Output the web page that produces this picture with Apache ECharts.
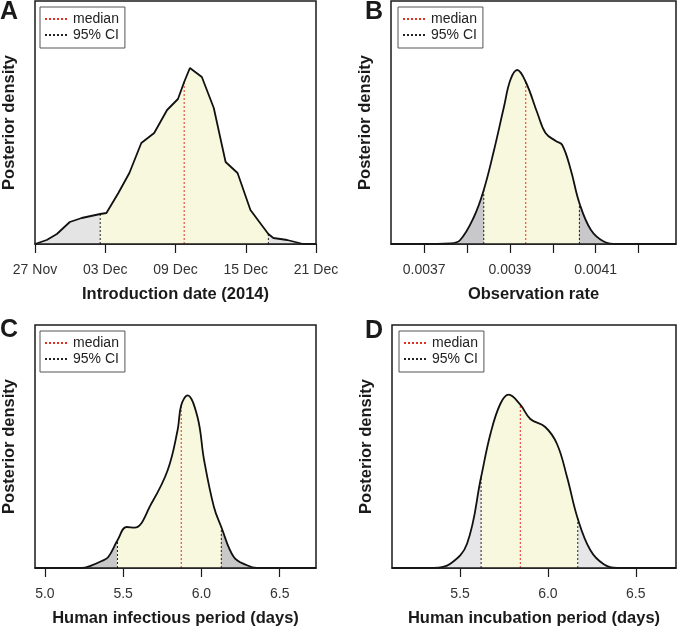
<!DOCTYPE html>
<html><head><meta charset="utf-8">
<script src="https://cdn.jsdelivr.net/npm/echarts@6/dist/echarts.min.js"></script>
<style>html,body{margin:0;padding:0;background:#fff}#c{width:677px;height:628px}</style>
</head><body><div id="c"></div>
<script>
// ---- Panel A: introduction date (days after 27 Nov 2014) ----
const xA = [0, 1.0, 1.87, 2.97, 3.99, 5.57, 6.1, 7.12, 8.06, 9.08, 10.18, 11.28, 12.21, 12.74, 13.23, 14.25, 15.27, 16.28, 17.3, 18.4, 19.93, 20.36, 21.54, 22.9, 24];
const yA = [0, 4, 10, 22, 26, 30, 31, 51, 71, 101, 111, 134, 145, 162, 176, 167, 136, 82, 71, 34, 10, 6, 4, 0, 0];
const ciA = [5.57, 19.93], ciHA = [30, 10], medA = 12.74, medHA = 162;
const ticksA = [0, 6, 12, 18, 24];
const tickLabelsA = ['27 Nov', '03 Dec', '09 Dec', '15 Dec', '21 Dec'];

// ---- Panel B: observation rate ----
const xB = [0.0036227, 0.00373, 0.003761, 0.003784, 0.003816, 0.003839, 0.003863, 0.003886, 0.003901, 0.003917, 0.003937, 0.003964, 0.003983, 0.004007, 0.004022, 0.004042, 0.004062, 0.004089, 0.00412, 0.004151, 0.0042873];
const yB = [0, 0, 0.5, 4, 27, 54, 94, 137, 164, 174, 162, 131, 111, 103, 99, 74, 41, 14, 2.3, 0, 0];
const ciB = [0.003839, 0.004062], ciHB = [54, 41], medB = 0.003937, medHB = 162;
const ticksB = [0.0037, 0.0038, 0.0039, 0.0040, 0.0041, 0.0042];
const labelsB = [0.0037, 0.0039, 0.0041];

// ---- Panel C: human infectious period (days) ----
const xC = [4.937, 5.236, 5.299, 5.363, 5.405, 5.464, 5.521, 5.573, 5.679, 5.785, 5.848, 5.871, 5.911, 5.975, 6.017, 6.080, 6.127, 6.207, 6.291, 6.354, 6.732];
const yC = [0, 0, 2.7, 7, 11, 27.7, 41, 40.3, 64, 98, 138, 162.7, 172.7, 151, 108, 61, 41, 11, 2.7, 0, 0];
const ciC = [5.464, 6.127], ciHC = [27.7, 41], medC = 5.871, medHC = 162.7;
const ticksC = [5.0, 5.5, 6.0, 6.5];

// ---- Panel D: human incubation period (days) ----
const xD = [5.113, 5.350, 5.445, 5.540, 5.620, 5.673, 5.729, 5.777, 5.843, 5.900, 5.985, 6.052, 6.109, 6.170, 6.242, 6.318, 6.394, 6.729];
const yD = [0, 0, 4.3, 24.3, 91, 134, 164, 173.3, 163.3, 149, 141, 124, 91, 49.3, 17.7, 3.7, 0, 0];
const ciD = [5.620, 6.170], ciHD = [91, 49.3], medD = 5.843, medHD = 163.3;
const ticksD = [5.5, 6.0, 6.5];

const FONT = 'Liberation Sans';
const panels = [
  {letter:'A', x:xA, y:yA, ci:ciA, ciH:ciHA, med:medA, medH:medHA, ticks:ticksA, labels:ticksA,
   fmt:v=>tickLabelsA[ticksA.indexOf(v)], name:'Introduction date (2014)', smooth:false, tail:'#e4e4e4',
   min:0, max:24, grid:{left:33, top:1, width:283, height:243}, lt:{left:0, top:0}},
  {letter:'B', x:xB, y:yB, ci:ciB, ciH:ciHB, med:medB, medH:medHB, ticks:ticksB, labels:labelsB,
   fmt:v=>v.toFixed(4), name:'Observation rate', smooth:0.4, tail:'#c8c8cb',
   min:0.0036227, max:0.0042873, grid:{left:391, top:1, width:285, height:243}, lt:{left:365, top:0}},
  {letter:'C', x:xC, y:yC, ci:ciC, ciH:ciHC, med:medC, medH:medHC, ticks:ticksC, labels:ticksC,
   fmt:v=>v.toFixed(1), name:'Human infectious period (days)', smooth:0.4, tail:'#c8c8c8',
   min:4.937, max:6.732, grid:{left:33, top:325, width:283, height:243}, lt:{left:0, top:318}},
  {letter:'D', x:xD, y:yD, ci:ciD, ciH:ciHD, med:medD, medH:medHD, ticks:ticksD, labels:ticksD,
   fmt:v=>v.toFixed(1), name:'Human incubation period (days)', smooth:0.4, tail:'#e6e6e9',
   min:5.113, max:6.729, grid:{left:392, top:325, width:284, height:243}, lt:{left:365, top:319}}
];

const option = {animation:false, textStyle:{fontFamily:FONT}, grid:[], xAxis:[], yAxis:[], series:[], visualMap:[], legend:[], title:[]};
panels.forEach((p, i) => {
  option.grid.push(Object.assign({show:true, borderColor:'#1a1a1a', borderWidth:1.5, backgroundColor:'transparent'}, p.grid));
  option.title.push({text:p.letter, left:p.lt.left, top:p.lt.top, padding:0,
    textStyle:{fontSize:25, fontWeight:'bold', color:'#1a1a1a', fontFamily:FONT}});
  option.xAxis.push({gridIndex:i, type:'value', min:p.min, max:p.max, z:5,
    axisLine:{show:true, onZero:false, lineStyle:{color:'#1a1a1a', width:1.5}},
    axisTick:{show:true, customValues:p.ticks, length:9, lineStyle:{color:'#1a1a1a', width:1.2}},
    axisLabel:{customValues:p.labels, formatter:p.fmt, margin:19, color:'#333', fontSize:14, fontFamily:FONT, showMinLabel:true, showMaxLabel:true, hideOverlap:false},
    splitLine:{show:false},
    name:p.name, nameLocation:'middle', nameGap:42,
    nameTextStyle:{fontSize:16.5, fontWeight:'bold', color:'#1a1a1a', fontFamily:FONT}});
  option.yAxis.push({gridIndex:i, type:'value', min:0, max:243,
    axisLine:{show:false}, axisTick:{show:false}, axisLabel:{show:false}, splitLine:{show:false},
    name:'Posterior density', nameLocation:'middle', nameGap:17, nameRotate:90,
    nameTextStyle:{fontSize:16.5, fontWeight:'bold', color:'#1a1a1a', fontFamily:FONT}});
  const pts = p.x.map((v, k) => [v, p.y[k]]);
  const base = option.series.length;
  option.series.push({type:'line', xAxisIndex:i, yAxisIndex:i, data:pts, smooth:p.smooth, symbol:'none', silent:true,
    lineStyle:{width:0}, areaStyle:{opacity:1}, z:1});
  option.visualMap.push({type:'piecewise', show:false, seriesIndex:base, dimension:0,
    pieces:[{lt:p.ci[0], color:p.tail}, {gte:p.ci[0], lte:p.ci[1], color:'#f8f8de'}, {gt:p.ci[1], color:p.tail}]});
  option.series.push({type:'line', xAxisIndex:i, yAxisIndex:i, data:pts, smooth:p.smooth, symbol:'none', silent:true,
    lineStyle:{color:'#111', width:1.8}, z:4});
  option.series.push({name:'median', type:'line', xAxisIndex:i, yAxisIndex:i, data:[[p.med,0],[p.med,p.medH]], symbol:'none', silent:true,
    lineStyle:{color:'#e03020', width:1, type:[2,2]}, z:3});
  [0,1].forEach(j => option.series.push({name:'95% CI', type:'line', xAxisIndex:i, yAxisIndex:i,
    data:[[p.ci[j],0],[p.ci[j],p.ciH[j]]], symbol:'none', silent:true,
    lineStyle:{color:'#222', width:1, type:[2,2]}, z:3}));
  option.legend.push({left:p.grid.left + 7, top:p.grid.top + 6, orient:'vertical', selectedMode:false,
    data:['median','95% CI'], borderColor:'#555', borderWidth:1, padding:[5,6,6,4], itemGap:2,
    itemWidth:23, itemHeight:14, backgroundColor:'#fff', itemStyle:{opacity:0},
    textStyle:{fontSize:14, color:'#222', fontFamily:FONT}});
});

const chart = echarts.init(document.getElementById('c'), null, {renderer:'canvas'});
chart.setOption(option);
</script></body></html>
